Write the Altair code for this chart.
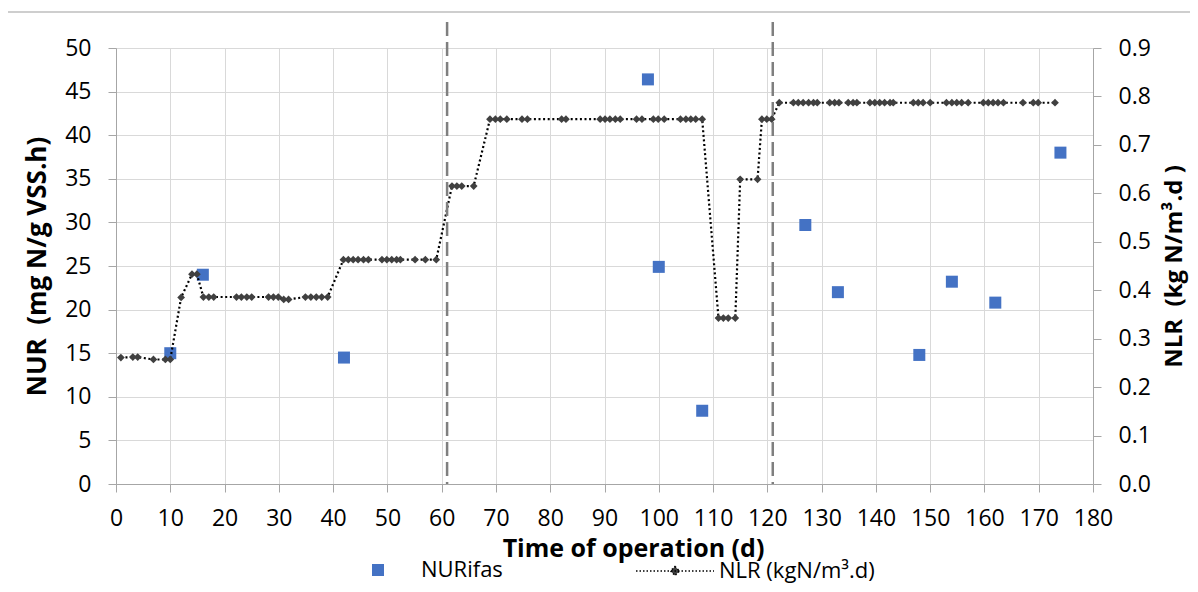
import altair as alt
import pandas as pd

# ---------------- data ----------------
nur_day = [10, 16, 42, 98, 100, 108, 127, 133, 148, 154, 162, 174]
nur_val = [15.0, 24.0, 14.5, 46.4, 24.9, 8.4, 29.7, 22.0, 14.8, 23.2, 20.8, 38.0]

nlr_day = [
    0.9, 3.1, 4.0, 6.9, 9.1, 10.0, 12.0, 14.0, 14.9, 16.1, 17.1, 18.0,
    22.2, 23.1, 24.1, 25.0, 28.1, 29.0, 29.9, 30.9, 31.8, 34.9, 35.9, 36.9,
    37.9, 39.0, 41.9, 42.8, 43.7, 44.6, 45.6, 46.5, 49.0, 49.9, 50.8, 51.7,
    52.4, 55.1, 57.0, 59.0,
    61.9, 62.8, 63.7, 65.9, 68.9, 69.9, 70.8, 72.0, 74.8, 75.8, 82.1, 82.9,
    89.2, 90.1, 91.0, 92.0, 92.9, 95.9, 96.9, 99.0, 99.9, 101.0, 104.0, 105.0,
    105.9, 106.8, 108.0, 111.0, 111.9, 112.8, 114.1, 115.0, 118.2, 119.0,
    119.9, 120.8,
    122.2, 124.8, 125.7, 126.6, 127.6, 128.5, 129.2, 131.5, 132.4, 133.2,
    134.9, 135.8, 136.5, 138.9, 139.8, 140.7, 141.6, 142.6, 143.2, 146.9,
    147.8, 148.7, 150.0, 153.0, 154.0, 154.9, 155.8, 157.0, 159.8, 160.7,
    161.6, 162.5, 163.5, 167.1, 169.0, 169.9, 173.0,
]
nlr_val = [
    0.261, 0.262, 0.262, 0.257, 0.257, 0.257, 0.385, 0.433, 0.433, 0.386, 0.386, 0.386,
    0.386, 0.386, 0.386, 0.386, 0.386, 0.386, 0.386, 0.381, 0.381, 0.386, 0.386, 0.386,
    0.386, 0.386, 0.463, 0.463, 0.463, 0.463, 0.463, 0.463, 0.463, 0.463, 0.463, 0.463,
    0.463, 0.463, 0.463, 0.463,
    0.615, 0.615, 0.615, 0.615, 0.753, 0.753, 0.753, 0.753, 0.753, 0.753, 0.753, 0.753,
    0.753, 0.753, 0.753, 0.753, 0.753, 0.753, 0.753, 0.753, 0.753, 0.753, 0.753, 0.753,
    0.753, 0.753, 0.753, 0.3425, 0.3425, 0.3425, 0.3425, 0.629, 0.629, 0.753,
    0.753, 0.753,
    0.787, 0.787, 0.787, 0.787, 0.787, 0.787, 0.787, 0.787, 0.787, 0.787,
    0.787, 0.787, 0.787, 0.787, 0.787, 0.787, 0.787, 0.787, 0.787, 0.787,
    0.787, 0.787, 0.787, 0.787, 0.787, 0.787, 0.787, 0.787, 0.787, 0.787,
    0.787, 0.787, 0.787, 0.787, 0.787, 0.787, 0.787,
]

phase_day = [61, 121]

x_ticks = [0, 10, 20, 30, 40, 50, 60, 70, 80, 90, 100, 110, 120, 130, 140, 150, 160, 170, 180]
nur_ticks = [0, 5, 10, 15, 20, 25, 30, 35, 40, 45, 50]
nlr_ticks = [0.0, 0.1, 0.2, 0.3, 0.4, 0.5, 0.6, 0.7, 0.8, 0.9]

NUR_NAME = "NURifas"
NLR_NAME = "NLR (kgN/m³.d)"

# ---------------- tables ----------------
nur_df = pd.DataFrame({"day": nur_day, "nur": nur_val, "series": NUR_NAME})
nlr_df = pd.DataFrame({"day": nlr_day, "nlr": nlr_val, "series": NLR_NAME})
phase_df = pd.DataFrame({"day": phase_day})
frame_df = pd.DataFrame({"k": [0]})

FONT = "Open Sans"
GREY = "#a6a6a6"

SQ_PATH = "M-0.154,-0.154L0.154,-0.154L0.154,0.154L-0.154,0.154Z"
NLR_PATH = "M-1,0L1,0M0,-0.115L0.115,0L0,0.115L-0.115,0Z"

x_enc = alt.X(
    "day:Q",
    scale=alt.Scale(domain=[0, 180], nice=False, zero=False),
    axis=alt.Axis(
        values=x_ticks, title="Time of operation (d)", grid=True,
        labelPadding=15, titlePadding=6, labelAngle=0, labelFlush=False,
        labelOverlap=False, titleX=517, titleFontSize=25,
    ),
)

nur_layer = alt.Chart(nur_df).mark_point(
    shape="square", filled=True, size=144, opacity=1
).encode(
    x=x_enc,
    y=alt.Y(
        "nur:Q",
        scale=alt.Scale(domain=[0, 50], nice=False),
        axis=alt.Axis(
            orient="left", values=nur_ticks, title="NUR\u00a0 (mg N/g VSS.h)",
            grid=True, labelPadding=17, titlePadding=14, labelOverlap=False,
            titleFontSize=26,
        ),
    ),
    color=alt.Color(
        "series:N",
        scale=alt.Scale(domain=[NUR_NAME], range=["#4472C4"]),
        legend=alt.Legend(
            title=None, orient="none", legendX=223, legendY=483, padding=0,
            symbolType=SQ_PATH, symbolSize=6084, symbolStrokeWidth=0,
            symbolOpacity=1, labelFont=FONT, labelFontSize=22,
            labelColor="black", labelOffset=4, labelLimit=400,
        ),
    ),
)

nlr_y = alt.Y(
    "nlr:Q",
    scale=alt.Scale(domain=[0, 0.9], nice=False),
    axis=alt.Axis(
        orient="right", values=nlr_ticks, format=".1f",
        title="NLR\u00a0 (kg N/m³.d )", grid=False, labelPadding=17,
        titlePadding=36, titleAngle=270, labelOverlap=False, titleFontSize=24,
    ),
)

nlr_line = alt.Chart(nlr_df).mark_line(
    color="black", strokeWidth=2.2, strokeDash=[2, 2.6]
).encode(x="day:Q", y=nlr_y)

nlr_pts = alt.Chart(nlr_df).mark_point(
    shape="diamond", filled=True, size=60, opacity=1
).encode(
    x="day:Q",
    y=nlr_y,
    color=alt.Color(
        "series:N",
        scale=alt.Scale(domain=[NLR_NAME], range=["#404040"]),
        legend=alt.Legend(
            title=None, orient="none", legendX=519, legendY=483, padding=0,
            symbolType=NLR_PATH, symbolSize=6084, symbolStrokeColor="black",
            symbolStrokeWidth=1.5, symbolDash=[1.5, 2], symbolOpacity=1,
            labelFont=FONT, labelFontSize=22, labelColor="black", labelOffset=4,
            labelLimit=400,
        ),
    ),
)

nlr_layer = alt.layer(nlr_line, nlr_pts)

rules = alt.Chart(phase_df).mark_rule(
    color="#7f7f7f", strokeWidth=2.5, strokeDash=[14, 6]
).encode(x="day:Q", y=alt.value(-26), y2=alt.value(436))

frame = alt.Chart(frame_df).mark_rect(
    fillOpacity=0, stroke="#bfbfbf", strokeWidth=1.5
).encode(x=alt.value(-109), x2=alt.value(1200), y=alt.value(-36), y2=alt.value(700))

chart = alt.layer(nur_layer, nlr_layer, rules, frame).resolve_scale(
    y="independent", color="independent"
).properties(
    width=977,
    height=436,
    autosize=alt.AutoSizeParams(type="none"),
    padding={"left": 108, "top": 40, "right": 97, "bottom": 100},
).configure_axis(
    labelFont=FONT, labelFontSize=23, labelColor="black",
    titleFont=FONT, titleFontSize=24, titleFontWeight="bold", titleColor="black",
    domainColor=GREY, tickColor=GREY, tickSize=8, gridColor="#d9d9d9",
).configure_view(stroke="transparent")

chart.save("out.html", embed_options={"renderer": "svg", "actions": False})
